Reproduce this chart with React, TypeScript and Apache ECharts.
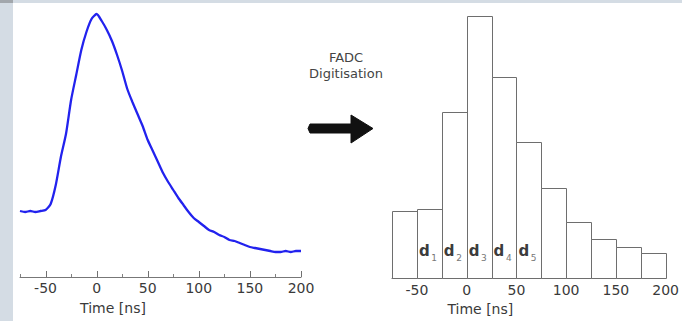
import React, { useEffect, useRef } from "react";
import * as echarts from "echarts";

// ---- data ----
const pulseTimes = [
  -75, -70, -65, -60, -55, -50, -45, -40, -35, -30, -25, -20, -15, -10, -5,
  0, 5, 10, 15, 20, 25, 30, 35, 40, 45, 50, 55, 60, 65, 70, 75, 80, 85, 90, 95,
  100, 105, 110, 115, 120, 125, 130, 135, 140, 145, 150, 155, 160, 165, 170,
  175, 180, 185, 190, 195, 200,
];
const pulseAmplitude = [
  66, 65, 66, 65, 66, 67, 73, 92, 120, 143, 177, 202, 227, 245, 258,
  263, 256, 247, 236, 222, 206, 188, 175, 163, 151, 137, 126, 115, 104, 95, 87,
  79, 72, 65, 59, 55, 51, 47, 45, 42, 40, 37, 36, 34, 32, 30, 29, 28, 27, 26,
  25, 25, 26, 25, 26, 26,
];
const binStarts = [-75, -50, -25, 0, 25, 50, 75, 100, 125, 150, 175];
const binWidth = 25;
const binHeights = [68, 70, 167, 264, 202, 137, 91, 56, 39, 31, 25];
const binSubscripts = ["", "1", "2", "3", "4", "5", "", "", "", "", ""];
const majorTicks = [-50, 0, 50, 100, 150, 200];
const minorTicks = [-75, -25, 25, 75, 125, 175];
const axisTitle = "Time [ns]";
const annotationLines = ["FADC", "Digitisation"];

const FONT = "DejaVu Sans";
const LABEL_COLOR = "#3a3a3a";

export default function App() {
  const ref = useRef<HTMLDivElement>(null);

  useEffect(() => {
    if (!ref.current) return;
    const chart = echarts.init(ref.current, undefined, { renderer: "svg" });

    const pulseData = pulseTimes.map((t, i) => [t, pulseAmplitude[i]]);
    const binData = binStarts.map((s, i) => [s, s + binWidth, binHeights[i]]);
    const majorTickData = majorTicks.map((v) => [v, 0]);
    const minorTickData = minorTicks.map((v) => [v, 0]);

    const axisLabelStyle = {
      fontFamily: FONT,
      fontSize: 14,
      color: LABEL_COLOR,
    };

    const tickSeries = (data: number[][], len: number, color: string) => ({
      type: "custom",
      xAxisIndex: 0,
      yAxisIndex: 0,
      data,
      silent: true,
      renderItem: (params: any, api: any) => {
        const p = api.coord([api.value(0), 0]);
        const x = Math.round(p[0]);
        const y = Math.round(p[1]);
        return {
          type: "rect",
          shape: { x: x, y: y - len, width: 1, height: len },
          style: { fill: color },
        };
      },
      z: 10,
    });

    const option: any = {
      animation: false,
      backgroundColor: "#ffffff",
      grid: [
        { left: 20, right: 381, top: 12, bottom: 44 },
        { left: 392, right: 9, top: 10, bottom: 41 },
      ],
      xAxis: [
        {
          type: "value",
          gridIndex: 0,
          min: -75,
          max: 200,
          axisLine: { show: true, lineStyle: { color: "#777", width: 1 } },
          axisTick: { show: false },
          axisLabel: { ...axisLabelStyle, margin: 4, customValues: majorTicks.slice() },
          splitLine: { show: false },
          name: axisTitle,
          nameLocation: "middle",
          nameGap: 24,
          nameTextStyle: { ...axisLabelStyle, padding: [0, 95, 0, 0] },
        },
        {
          type: "value",
          gridIndex: 1,
          min: -75,
          max: 200,
          axisLine: { show: true, lineStyle: { color: "#666", width: 1 } },
          axisTick: { show: false },
          axisLabel: { ...axisLabelStyle, margin: 5, customValues: majorTicks.slice() },
          splitLine: { show: false },
          name: axisTitle,
          nameLocation: "middle",
          nameGap: 24,
          nameTextStyle: { ...axisLabelStyle, padding: [0, 97, 0, 0] },
        },
      ],
      yAxis: [
        { type: "value", gridIndex: 0, min: 0, max: 265, show: false },
        { type: "value", gridIndex: 1, min: 0, max: 270, show: false },
      ],
      series: [
        {
          type: "line",
          xAxisIndex: 0,
          yAxisIndex: 0,
          data: pulseData,
          showSymbol: false,
          smooth: 0.2,
          lineStyle: { color: "#2222ee", width: 2.3 },
          z: 5,
        },
        tickSeries(majorTickData, 6, "#707070"),
        tickSeries(minorTickData, 3, "#808080"),
        {
          type: "custom",
          xAxisIndex: 1,
          yAxisIndex: 1,
          data: binData,
          renderItem: (params: any, api: any) => {
            const s = api.value(0);
            const e = api.value(1);
            const h = api.value(2);
            const p0 = api.coord([s, h]);
            const p1 = api.coord([e, 0]);
            const x0 = Math.round(p0[0]) + 0.5;
            const x1 = Math.round(p1[0]) + 0.5;
            const y0 = Math.round(p0[1]) + 0.5;
            const y1 = Math.round(p1[1]) + 0.5;
            const children: any[] = [
              {
                type: "rect",
                shape: { x: x0, y: y0, width: x1 - x0, height: y1 - y0 },
                style: { fill: "#ffffff", stroke: "#6e6e6e", lineWidth: 1 },
              },
            ];
            const sub = binSubscripts[params.dataIndex];
            if (sub) {
              const cx = (p0[0] + p1[0]) / 2;
              children.push({
                type: "text",
                x: cx - 5,
                y: p1[1] - 27.5,
                style: {
                  text: "d",
                  fontFamily: FONT,
                  fontWeight: "bold",
                  fontSize: 15,
                  fill: "#3c3c3c",
                  align: "center",
                  verticalAlign: "middle",
                },
              });
              children.push({
                type: "text",
                x: cx + 2,
                y: p1[1] - 20,
                style: {
                  text: sub,
                  fontFamily: FONT,
                  fontSize: 9,
                  fill: "#777",
                  align: "left",
                  verticalAlign: "middle",
                },
              });
            }
            return { type: "group", children };
          },
          z: 3,
        },
      ],
      graphic: [
        {
          type: "rect",
          shape: { x: 0, y: 0, width: 682, height: 3 },
          style: { fill: "#d4dce4" },
          silent: true,
        },
        {
          type: "rect",
          shape: { x: 0, y: 0, width: 13, height: 321 },
          style: { fill: "#d4dce4" },
          silent: true,
        },
        {
          type: "rect",
          shape: { x: 0, y: 0, width: 13, height: 3 },
          style: { fill: "#a2a7ac" },
          silent: true,
        },
        {
          type: "text",
          x: 346,
          y: 57,
          style: {
            text: annotationLines[0],
            fontFamily: FONT,
            fontSize: 13,
            fill: "#444",
            align: "center",
            verticalAlign: "middle",
          },
        },
        {
          type: "text",
          x: 346,
          y: 73,
          style: {
            text: annotationLines[1],
            fontFamily: FONT,
            fontSize: 13,
            fill: "#444",
            align: "center",
            verticalAlign: "middle",
          },
        },
        {
          type: "polygon",
          shape: {
            points: [
              [310, 124],
              [351, 124],
              [351, 115],
              [373, 128.5],
              [351, 143],
              [351, 133],
              [310, 133],
              [308, 128.5],
            ],
          },
          style: { fill: "#111111", stroke: "#111111", lineWidth: 1, lineJoin: "round" },
        },
      ],
    };

    chart.setOption(option);
    return () => chart.dispose();
  }, []);

  return (
    <div
      ref={ref}
      style={{ position: "fixed", left: 0, top: 0, width: 682, height: 321 }}
    />
  );
}
